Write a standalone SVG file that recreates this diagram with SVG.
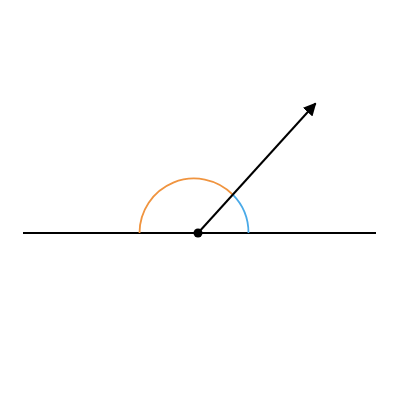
<svg xmlns="http://www.w3.org/2000/svg" width="400" height="400" viewBox="0 0 400 400">
<defs>
<marker id="ah" viewBox="0 0 10 10" refX="9" refY="5" markerWidth="6.5" markerHeight="6.5" orient="auto" markerUnits="strokeWidth">
<path d="M0,0 L10,5 L0,10 z" fill="#000"/>
</marker>
<style>
.ln{stroke:#000;stroke-width:2;fill:none}
.arc{fill:none;stroke-width:1.8}
</style>
</defs>
<rect width="400" height="400" fill="#fff"/>
<g id="connectors">
<line class="ln" x1="23" y1="233" x2="376" y2="233"/>
<path class="arc" stroke="#f0943f" d="M139.5,233 A54.5,54.5 0 0 1 232.8,194.7"/>
<path class="arc" stroke="#4aaae8" d="M232.8,194.7 A54.5,54.5 0 0 1 248.5,233"/>
<line class="ln" x1="198" y1="233" x2="315.5" y2="103.5" marker-end="url(#ah)"/>
</g>
<g id="center">
<circle cx="198" cy="233" r="4.5" fill="#000"/>
</g>
</svg>
